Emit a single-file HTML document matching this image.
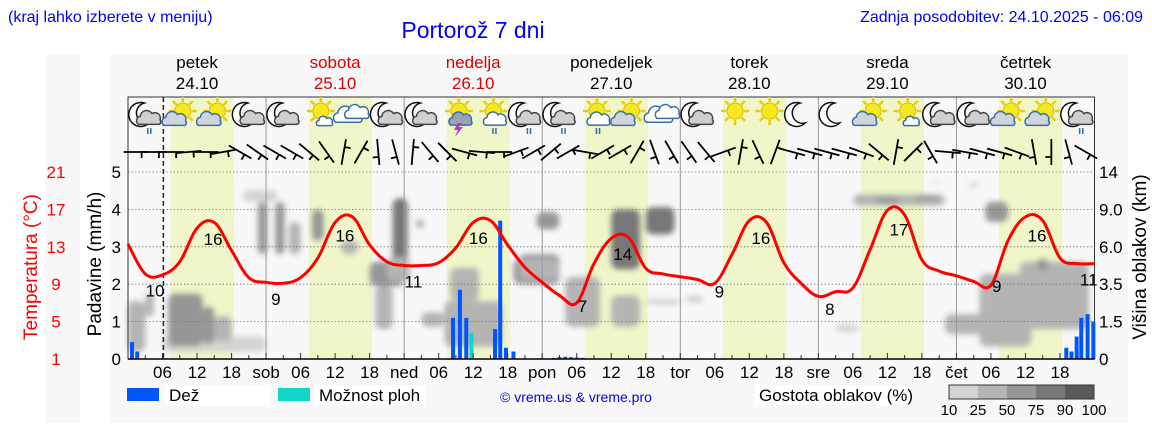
<!DOCTYPE html>
<html><head><meta charset="utf-8">
<style>
html,body{margin:0;padding:0;background:#fff;width:1152px;height:443px;overflow:hidden}
svg{display:block;font-family:"Liberation Sans","DejaVu Sans",sans-serif}
</style></head>
<body>
<svg id="chart" width="1152" height="443" viewBox="0 0 1152 443" xmlns="http://www.w3.org/2000/svg">
<defs>
<filter id="blur" x="-20%" y="-20%" width="140%" height="140%"><feGaussianBlur stdDeviation="3"/></filter>
</defs>
<rect x="45" y="55" width="35" height="368" fill="#f8f8f8"/>
<rect x="110" y="55" width="1018" height="368" fill="#f8f8f8"/>
<text x="8" y="22" font-size="16" fill="#0000ff">(kraj lahko izberete v meniju)</text>
<text x="473" y="38" font-size="23" fill="#0000ff" text-anchor="middle">Portorož 7 dni</text>
<text x="1143" y="22" font-size="16" fill="#0000ff" text-anchor="end">Zadnja posodobitev: 24.10.2025 - 06:09</text>
<g id="bg"></g>
<g id="clouds" filter="url(#blur)"></g>
<g id="grid"></g>
<g id="rain"></g>
<g id="temp"></g>
<g id="icons"></g>
<g id="wind"></g>
<g id="axes"></g>
<g id="legend"></g>
</svg>
<script>
// ---- data ----
const dayNames = ["petek","sobota","nedelja","ponedeljek","torek","sreda","četrtek"];
const dayDates = ["24.10","25.10","26.10","27.10","28.10","29.10","30.10"];
const dayRed = [false,true,true,false,false,false,false];
const dayShort = ["","sob","ned","pon","tor","sre","čet"];
const rainTicks = [0,1,2,3,4,5];
const tempTicks = [1,5,9,13,17,21];
const kmTicks = [0,1.5,3.5,6.0,9.0,14];
const kmTickLabels = ["0","1.5","3.5","6.0","9.0","14"];
// temperature every 3 hours from 24.10 00:00
const temps = [13.3,10.1,10,11.4,15,15.6,12.6,9.7,
 9.2,9.1,9.7,11.8,15.6,16.2,13.2,11.4,
 11,11,11.3,12.9,15.6,15.8,13.2,10.8,
 9.2,7.8,7,11.2,13.9,14,10.7,10.1,
 9.8,9.5,9.1,12.2,15.8,15.6,11.3,9.1,
 7.7,8.2,8.6,12.7,16.9,16.4,11.6,10.4,
 9.9,9.3,8.9,13.7,16.2,15.8,11.8,11.2,11.2];
const tempLabelHours = [4.7,14.8,25.7,37.7,49.6,60.9,79,86,102.8,110,122,134,151,158,167];
const tempLabelValues = [10,16,9,16,11,16,7,14,9,16,8,17,9,16,11];
// rain (hour, mm/h)
const rainHours = [0.7,1.6,56.5,57.7,58.8,63.8,64.7,65.7,67,74,75,76,77,78,79,163.1,164,164.9,165.7,166.8,167.8];
const rainValues = [0.45,0.2,1.1,1.85,1.1,0.8,3.7,0.3,0.2,0.03,0.05,0.06,0.05,0.04,0.03,0.3,0.2,0.6,1.1,1.2,1.0];
const showerHours = [59.7];
const showerValues = [0.7];
// cloud patches: hour start, hour end, km low, km high, density %
const cloudH0 = [0,3,6,7,13,15,20,22.6,25.6,28,32,37,43,42,46,45,50,51,55,56,67,68,71,68,76,84,90,84,90,97,123,126,130,137,140,146,149,148,142,155,158];
const cloudH1 = [3,4.5,24,13,15,18,26,24.2,27.2,30,34,40,46,48,48.6,49,51.5,55,65,61,69.5,75,75,75,82,89,95,89,96,100,127,142,134,141,141,148,153,157,152,167,160];
const cloudL = [0.3,1.8,0.3,0.5,0.6,0.7,10,5.5,5.5,5.5,6.5,5.5,1.2,3.4,4.8,3.7,7.5,1.3,0.5,2.6,3.5,3.5,7.4,3.8,1.3,4.5,7,1.3,2.4,2.5,1.1,9.5,9.8,10.2,12.5,12,8,0.5,1,1.2,4.4];
const cloudHi = [2.6,3.0,0.9,3.0,2.3,1.8,11.6,10,10,8,9,6.5,3.4,5,10.5,5.3,8.2,2.0,2.6,4.6,5.2,5.5,8.8,5.2,4.0,9,9.3,2.9,2.7,2.9,1.4,11,10.6,10.8,12.9,12.6,10,4.2,1.9,5,5.2];
const cloudD = [45,30,15,55,55,45,20,65,65,30,50,35,35,60,80,35,30,40,40,30,50,55,65,45,35,75,80,40,15,20,20,40,65,50,20,20,60,35,25,45,65];
// wind line angles (deg, screen) every 3 hours
const windAngles = [0,0,0,-5,0,-10,30,35, 30,30,40,55,-80,-60,85,75, -85,50,45,15,5,0,-20,-30,
 -40,-30,10,-30,-30,-60,70,60, 55,50,-20,-80,65,-70,15,15, 15,15,20,40,-80,-45,60,5, 10,15,15,20,80,90,75,30];
const iconTypes = ["mcr","sc","sc","mc","mc","ss","c","mc","mc","st","sr","mcr","mcr","sr","sc","c","mc","s","s","m","m","sc","ss","mc","mc","sc","sc","mcr"];
const densLegend = [10,25,50,75,90,100];

// ---- scales ----
const X0=128, X1=1094.5, Y0=359, PX=37.4;
function xH(h){return X0 + h*(X1-X0)/168;}
function yR(r){return Y0 - r*PX;}
function yT(t){return Y0 - (t-1)*PX/4;}
function yK(k){
  for(let i=0;i<kmTicks.length-1;i++){
    if(k<=kmTicks[i+1]) return Y0 - (i + (k-kmTicks[i])/(kmTicks[i+1]-kmTicks[i]))*PX;
  }
  return Y0 - 5*PX;
}
const NS="http://www.w3.org/2000/svg";
function mk(tag,attrs,parent){const e=document.createElementNS(NS,tag);for(const k in attrs)e.setAttribute(k,attrs[k]);parent.appendChild(e);return e;}
function dcol(d){return d<25?"#d3d3d3":d<50?"#b4b4b4":d<75?"#969696":d<90?"#777777":"#5a5a5a";}

const gBg=document.getElementById('bg'),gCl=document.getElementById('clouds'),gGr=document.getElementById('grid'),
gRain=document.getElementById('rain'),gT=document.getElementById('temp'),gI=document.getElementById('icons'),
gW=document.getElementById('wind'),gA=document.getElementById('axes'),gL=document.getElementById('legend');

let pb=mk('rect',{x:X0,y:97,width:X1-X0,height:Y0-97,fill:'#f8f8f8'},gBg);


for(let d=0;d<7;d++){
  let r=mk('rect',{x:xH(d*24+7.4),y:97,width:xH(18.4)-xH(7.4),height:Y0-97,fill:'#f0f6c9'},gBg);
  
  
}
for(let i=0;i<cloudH0.length;i++){
  const x=xH(cloudH0[i]),w=xH(cloudH1[i])-x,y=yK(cloudHi[i]),h=yK(cloudL[i])-y;
  let r=mk('rect',{x:x,y:y,width:w,height:h,rx:Math.min(7,w/2),fill:dcol(cloudD[i])},gCl);
  
  
}
for(let i=1;i<=5;i++){
  let l=mk('line',{x1:X0,x2:X1,y1:yR(i),y2:yR(i),stroke:'#777','stroke-width':0.8,'stroke-dasharray':'1.5,2'},gGr);
  
  
}
for(let d=1;d<7;d++){
  let l=mk('line',{x1:xH(d*24),x2:xH(d*24),y1:97,y2:Y0,stroke:'#999','stroke-width':1},gGr);
  
  
}
let nowL=mk('line',{x1:xH(6.15),x2:xH(6.15),y1:97,y2:Y0,stroke:'#222','stroke-width':1.5,'stroke-dasharray':'5,3'},gGr);


let box=mk('rect',{x:X0,y:97,width:X1-X0,height:Y0-97,fill:'none',stroke:'#333','stroke-width':1},gGr);


for(let i=0;i<rainHours.length;i++){
  let r=mk('rect',{x:xH(rainHours[i])-2,y:yR(rainValues[i]),width:4,height:Y0-yR(rainValues[i]),fill:'#0055ff'},gRain);
  
  
}
for(let i=0;i<showerHours.length;i++){
  let r=mk('rect',{x:xH(showerHours[i])-2,y:yR(showerValues[i]),width:4,height:Y0-yR(showerValues[i]),fill:'#10d8c8'},gRain);
  
  
}
const pts=temps.map((t,i)=>[xH(i*3),yT(t)]);
let dstr='M'+pts[0][0]+','+pts[0][1];
for(let i=0;i<pts.length-1;i++){
  const p0=pts[Math.max(0,i-1)],p1=pts[i],p2=pts[i+1],p3=pts[Math.min(pts.length-1,i+2)];
  const k=0.18;
  dstr+=' C'+(p1[0]+(p2[0]-p0[0])*k)+','+(p1[1]+(p2[1]-p0[1])*k)+' '+(p2[0]-(p3[0]-p1[0])*k)+','+(p2[1]-(p3[1]-p1[1])*k)+' '+p2[0]+','+p2[1];
}
let tl=mk('path',{d:dstr,fill:'none',stroke:'#ff0000','stroke-width':3,'stroke-linejoin':'round'},gT);


function tempAt(h){const i=Math.min(Math.floor(h/3),temps.length-2);const f=h/3-i;return temps[i]*(1-f)+temps[i+1]*f;}
for(let i=0;i<tempLabelHours.length;i++){
  const h=tempLabelHours[i];
  let t=mk('text',{x:xH(h),y:yT(tempAt(h))+22,'font-size':17,'text-anchor':'middle',fill:'#000'},gT);
  t.textContent=tempLabelValues[i];
  
  
}
function moon(g,cx,cy,s){mk('path',{d:`M${cx+3*s},${cy-12*s} A${12*s},${12*s} 0 1 0 ${cx+8*s},${cy+8*s} A${9*s},${9*s} 0 1 1 ${cx+3*s},${cy-12*s} Z`,fill:'#fff',stroke:'#111','stroke-width':1.5},g);}
function sun(g,cx,cy){for(let a=0;a<360;a+=45){const r=a*Math.PI/180;mk('line',{x1:cx+Math.cos(r)*9,y1:cy+Math.sin(r)*9,x2:cx+Math.cos(r)*14,y2:cy+Math.sin(r)*14,stroke:'#e8d000','stroke-width':2.5},g);}
 mk('circle',{cx:cx,cy:cy,r:8,fill:'#f6e81e',stroke:'#e0b800','stroke-width':1},g);}
function cloud(g,cx,cy,s,fill,stroke){const d=`M${cx-12*s},${cy+6*s} A${5*s},${5*s} 0 0 1 ${cx-10*s},${cy-3*s} A${7*s},${7*s} 0 0 1 ${cx+3*s},${cy-6*s} A${6*s},${6*s} 0 0 1 ${cx+12*s},${cy+1*s} A${3*s},${3*s} 0 0 1 ${cx+11*s},${cy+6*s} Z`;mk('path',{d:d,fill:fill,stroke:stroke,'stroke-width':1.5},g);}
function drops(g,cx,cy){mk('text',{x:cx,y:cy,'font-size':11,'font-weight':'bold',fill:'#3a6ea8','text-anchor':'middle'},g).textContent='ıı';}
for(let i=0;i<iconTypes.length;i++){
  const cx=xH(i*6+3),cy=115,t=iconTypes[i];
  const g=mk('g',{},gI);
  
  
  if(t[0]==='m'){moon(g,cx-4,cy,1); if(t.length>1) cloud(g,cx+4,cy+4,0.9,'#cfcfcf','#444');}
  else if(t==='c'){cloud(g,cx-4,cy+1,1.05,'#fff','#3a6ea8');cloud(g,cx+5,cy-2,0.9,'#fff','#3a6ea8');}
  else {sun(g,cx+3,cy-4);
    if(t==='sc') cloud(g,cx-5,cy+5,0.9,'#cfd5dc','#3a6ea8');
    if(t==='ss') cloud(g,cx+7,cy+7,0.6,'#fff','#3a6ea8');
    if(t==='sr'||t==='st') cloud(g,cx+5,cy+5,0.85,t==='st'?'#9aa4b0':'#fff','#3a6ea8');
    if(t==='st') mk('path',{d:`M${cx+2},${cy+8} l-4,7 h4 l-3,7 l8,-10 h-4 l3,-4 Z`,fill:'#b03cc0'},g);
  }
  if(t==='mcr'||t==='sr') drops(g,cx+4,cy+19);
}
for(let i=0;i<windAngles.length;i++){
  const cx=xH(i*3+1.5),cy=152,a=windAngles[i]*Math.PI/180,L=13;
  const x1=cx-Math.cos(a)*L,y1=cy-Math.sin(a)*L,x2=cx+Math.cos(a)*L,y2=cy+Math.sin(a)*L;
  const l=mk('path',{d:`M${x1},${y1} L${x2},${y2} M${cx+Math.cos(a)*5},${cy+Math.sin(a)*5} l${-Math.sin(a)*6},${Math.cos(a)*6}`,stroke:'#000','stroke-width':1.8,fill:'none'},gW);
  
  
}
for(let d=0;d<7;d++){
  const cx=xH(d*24+12);
  let n=mk('text',{x:cx,y:68,'font-size':17,'text-anchor':'middle',fill:dayRed[d]?'#dd0000':'#000'},gA);
  n.textContent=dayNames[d];
  
  
  let dt=mk('text',{x:cx,y:89,'font-size':17,'text-anchor':'middle',fill:dayRed[d]?'#dd0000':'#000'},gA);
  dt.textContent=dayDates[d];
  
  
  for(let h=0;h<24;h+=3){
    if(d===0&&h===0)continue;
    const tk=mk('line',{x1:xH(d*24+h),x2:xH(d*24+h),y1:Y0,y2:Y0-(h%6===0?6:4),stroke:'#333','stroke-width':1},gA);
    
    
  }
  const labs=[[0,dayShort[d]],[6,'06'],[12,'12'],[18,'18']];
  for(const [h,s] of labs){ if(!s)continue;
    let t=mk('text',{x:xH(d*24+h),y:378,'font-size':17,'text-anchor':'middle',fill:'#000'},gA);
    t.textContent=s;
    
    
  }
}
let xa=mk('line',{x1:X0,x2:X1,y1:Y0,y2:Y0,stroke:'#000','stroke-width':1.5},gA);


for(let i=0;i<rainTicks.length;i++){
  let t=mk('text',{x:121,y:yR(rainTicks[i])+6,'font-size':17,'text-anchor':'end',fill:'#000'},gA);
  t.textContent=rainTicks[i];
  
  
  let tt=mk('text',{x:56,y:yT(tempTicks[i])+6,'font-size':17,'text-anchor':'middle',fill:'#ff0000'},gA);
  tt.textContent=tempTicks[i];
  
  
  let kt=mk('text',{x:1099,y:yK(kmTicks[i])+6,'font-size':17,'text-anchor':'start',fill:'#000'},gA);
  kt.textContent=kmTickLabels[i];
  
  
}
let t1=mk('text',{x:0,y:0,'font-size':19,'text-anchor':'middle',fill:'#ff0000',transform:'translate(37,267) rotate(-90)'},gA);
t1.textContent='Temperatura (°C)';


let t2=mk('text',{x:0,y:0,'font-size':19,'text-anchor':'middle',fill:'#000',transform:'translate(101,264) rotate(-90)'},gA);


t2.textContent='Padavine (mm/h)';
let t3=mk('text',{x:0,y:0,'font-size':19,'text-anchor':'middle',fill:'#000',transform:'translate(1146,257) rotate(-90)'},gA);
t3.textContent='Višina oblakov (km)';


function wbox(x,w){mk('rect',{x:x,y:385,width:w,height:20,fill:'#fff'},gL);}
wbox(165,105);wbox(315,110);wbox(755,155);
let l1=mk('rect',{x:127,y:388,width:32,height:13,fill:'#0055ff'},gL);


let l1t=mk('text',{x:169,y:401,'font-size':17,fill:'#000'},gL);
l1t.textContent='Dež';


let l2=mk('rect',{x:278,y:388,width:32,height:13,fill:'#10d8c8'},gL);


let l2t=mk('text',{x:319,y:401,'font-size':17,fill:'#000'},gL);
l2t.textContent='Možnost ploh';


let cp=mk('text',{x:500,y:402,'font-size':14,fill:'#0000ff'},gL);
cp.textContent='© vreme.us & vreme.pro';


let gt=mk('text',{x:759,y:401,'font-size':17,fill:'#000'},gL);
gt.textContent='Gostota oblakov (%)';


for(let i=0;i<densLegend.length;i++){
  const x=949+i*29;
  if(i<densLegend.length-1){
    let r=mk('rect',{x:x,y:385,width:29,height:14,fill:dcol(densLegend[i]+1)},gL);
    
    
  }
  let t=mk('text',{x:x,y:415,'font-size':15,'text-anchor':'middle',fill:'#000'},gL);
  t.textContent=densLegend[i];
  
  
}
let fr=mk('rect',{x:949,y:385,width:145,height:14,fill:'none',stroke:'#333','stroke-width':1},gL);


</script>
</body></html>
